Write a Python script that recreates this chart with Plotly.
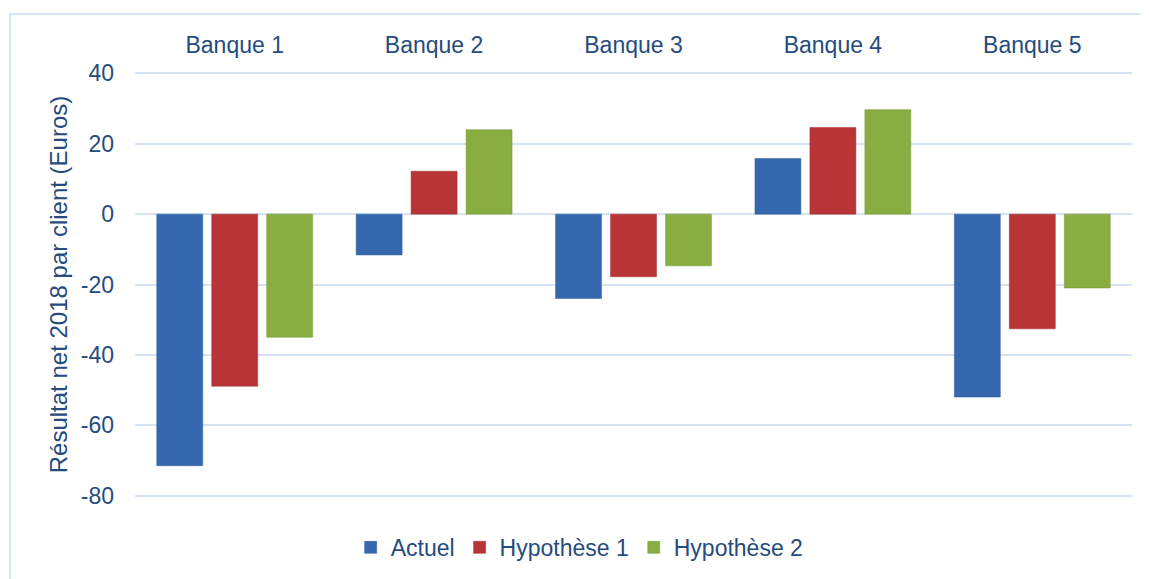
import plotly.graph_objects as go

categories = ["Banque 1", "Banque 2", "Banque 3", "Banque 4", "Banque 5"]
actuel = [-71.5, -11.6, -24.0, 15.8, -52.0]
hyp1 = [-48.9, 12.2, -17.8, 24.6, -32.6]
hyp2 = [-35.0, 24.0, -14.7, 29.7, -21.0]
series_names = ["Actuel", "Hypothèse 1", "Hypothèse 2"]
tick_vals = [40, 20, 0, -20, -40, -60, -80]
tick_text = ["40", "20", "0", "-20", "-40", "-60", "-80"]

colors = ["#3568AE", "#B83436", "#89AD40"]
line_colors = ["#2D5A96", "#9E2C2E", "#779937"]
text_color = "#264B7E"
grid_color = "#D6E3F3"

fig = go.Figure()
for name, vals, c, lc in zip(series_names, [actuel, hyp1, hyp2], colors, line_colors):
    fig.add_trace(go.Bar(
        x=categories, y=vals, name=name,
        marker=dict(color=c, line=dict(color=lc, width=0.5)),
    ))

fig.update_layout(
    width=1149, height=579,
    margin=dict(l=127, r=25, t=64, b=90),
    paper_bgcolor="white", plot_bgcolor="white",
    barmode="group", bargap=0.173, bargroupgap=0.164,
    font=dict(family="Liberation Sans, Arial, sans-serif", size=23, color=text_color),
    xaxis=dict(side="top", showgrid=False, showline=False, ticks="", automargin=False,
               ticklabelstandoff=13,
               tickfont=dict(size=23, color=text_color)),
    yaxis=dict(range=[-80.4, 40.4], tickvals=tick_vals, ticktext=tick_text, showgrid=True,
               gridcolor=grid_color, gridwidth=2, zeroline=True, automargin=False,
               zerolinecolor=grid_color, zerolinewidth=2, ticks="",
               ticklabelstandoff=20,
               tickfont=dict(size=23, color=text_color),
               title=dict(text="Résultat net 2018 par client (Euros)",
                          font=dict(size=24, color=text_color), standoff=6)),
    legend=dict(orientation="h", x=0.446, xanchor="center", y=-0.068, yanchor="top",
                font=dict(size=23, color=text_color), itemwidth=30,
                traceorder="normal"),
    shapes=[dict(type="rect", xref="paper", yref="paper",
                 x0=-0.1254, x1=1.05, y0=-0.4, y1=1.1365,
                 line=dict(color="#D9E6F5", width=2), fillcolor="rgba(0,0,0,0)",
                 layer="below")],
)

fig.write_html("out.html")
